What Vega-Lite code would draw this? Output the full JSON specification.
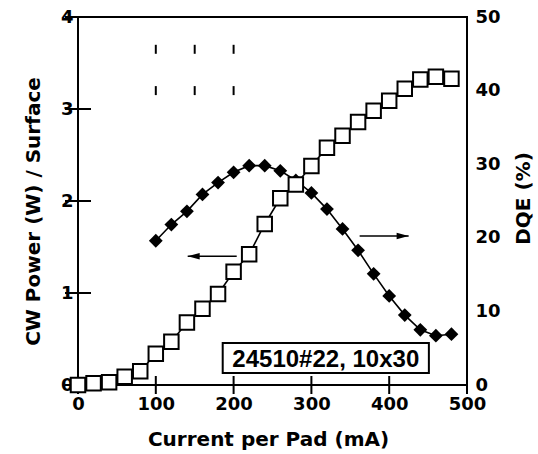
{
  "$schema": "https://vega.github.io/schema/vega-lite/v6.json",
  "width": 389,
  "height": 368,
  "autosize": "none",
  "padding": {"left": 78, "top": 17, "right": 71, "bottom": 69},
  "background": "white",
  "config": {
    "view": {"stroke": "black", "strokeWidth": 2},
    "axis": {
      "domain": false,
      "grid": false,
      "ticks": false,
      "labelColor": "black",
      "labelFont": "DejaVu Sans",
      "labelFontSize": 18,
      "labelFontWeight": "bold",
      "titleColor": "black",
      "titleFont": "DejaVu Sans",
      "titleFontSize": 20,
      "titleFontWeight": "bold"
    }
  },
  "datasets": {
    "curve": [
      {"current": 0, "power": 0.0},
      {"current": 20, "power": 0.02},
      {"current": 40, "power": 0.03},
      {"current": 60, "power": 0.09},
      {"current": 80, "power": 0.15},
      {"current": 100, "power": 0.34, "dqe": 19.6},
      {"current": 120, "power": 0.47, "dqe": 21.8},
      {"current": 140, "power": 0.68, "dqe": 23.6},
      {"current": 160, "power": 0.83, "dqe": 25.9},
      {"current": 180, "power": 0.99, "dqe": 27.5},
      {"current": 200, "power": 1.23, "dqe": 28.9},
      {"current": 220, "power": 1.42, "dqe": 29.8},
      {"current": 240, "power": 1.75, "dqe": 29.8},
      {"current": 260, "power": 2.03, "dqe": 29.1},
      {"current": 280, "power": 2.18, "dqe": 27.8},
      {"current": 300, "power": 2.38, "dqe": 26.1},
      {"current": 320, "power": 2.58, "dqe": 23.9},
      {"current": 340, "power": 2.71, "dqe": 21.2},
      {"current": 360, "power": 2.86, "dqe": 18.3},
      {"current": 380, "power": 2.98, "dqe": 15.1},
      {"current": 400, "power": 3.09, "dqe": 12.1},
      {"current": 420, "power": 3.22, "dqe": 9.5},
      {"current": 440, "power": 3.32, "dqe": 7.5},
      {"current": 460, "power": 3.35, "dqe": 6.7},
      {"current": 480, "power": 3.33, "dqe": 6.9}
    ],
    "arrows": [
      {"arrow": "left", "current": 141, "power": 1.40},
      {"arrow": "left", "current": 204, "power": 1.40},
      {"arrow": "right", "current": 362, "power": 1.62},
      {"arrow": "right", "current": 425, "power": 1.62}
    ],
    "leftHead": [{"current": 141, "power": 1.40}],
    "rightHead": [{"current": 425, "power": 1.62}],
    "label": [{"current": 186, "current2": 451, "power": 0.13, "power2": 0.457, "mid": 318.5, "midPower": 0.285, "text": "24510#22, 10x30"}],
    "testA": [{"current": 100, "power": 3.6}, {"current": 150, "power": 3.6}, {"current": 200, "power": 3.6}],
    "testB": [{"current": 100, "power": 3.2}, {"current": 150, "power": 3.2}, {"current": 200, "power": 3.2}],
    "xMajor": [{"current": 0, "power": 0}, {"current": 100, "power": 0}, {"current": 200, "power": 0}, {"current": 300, "power": 0}, {"current": 400, "power": 0}, {"current": 500, "power": 0}],
    "leftMajor": [{"current": 0, "power": 0}, {"current": 0, "power": 1}, {"current": 0, "power": 2}, {"current": 0, "power": 3}, {"current": 0, "power": 4}]
  },
  "layer": [
    {
      "encoding": {
        "x": {"field": "current", "type": "quantitative"},
        "y": {
          "field": "dqe", "type": "quantitative",
          "scale": {"domain": [0, 50], "nice": false},
          "axis": {
            "orient": "right",
            "title": "DQE (%)",
            "values": [0, 10, 20, 30, 40, 50],
            "labelPadding": 8,
            "labelFlush": false,
            "labelOverlap": false,
            "titleAngle": 270,
            "titleBaseline": "middle",
            "titleX": 56,
            "titleY": 181
          }
        }
      },
      "layer": [
        {"data": {"name": "curve"}, "transform": [{"filter": "isValid(datum.dqe)"}], "mark": {"type": "line", "color": "black", "strokeWidth": 1.6}},
        {"data": {"name": "curve"}, "transform": [{"filter": "isValid(datum.dqe)"}], "mark": {"type": "point", "shape": "diamond", "filled": true, "color": "black", "size": 190, "opacity": 1}}
      ]
    },
    {
      "encoding": {
        "x": {
          "field": "current", "type": "quantitative",
          "scale": {"domain": [0, 500], "nice": false, "zero": false},
          "axis": {
            "orient": "bottom",
            "title": "Current per Pad (mA)",
            "values": [0, 100, 200, 300, 400, 500],
            "labelPadding": 10,
            "labelFlush": false,
            "labelOverlap": false,
            "titleX": 190,
            "titleY": 60,
            "titleBaseline": "alphabetic"
          }
        },
        "y": {
          "field": "power", "type": "quantitative",
          "scale": {"domain": [0, 4], "nice": false},
          "axis": {
            "orient": "left",
            "title": "CW Power (W) / Surface",
            "values": [0, 1, 2, 3, 4],
            "format": "d",
            "labelPadding": 5,
            "labelFlush": false,
            "labelOverlap": false,
            "titleBaseline": "middle",
            "titleX": -45,
            "titleY": 194
          }
        }
      },
      "layer": [
        {"data": {"name": "testA"}, "mark": {"type": "point", "shape": "M-0.22,0L-0.22,-2L0.22,-2L0.22,0Z", "filled": true, "color": "black", "size": 81, "opacity": 1}},
        {"data": {"name": "testB"}, "mark": {"type": "tick", "orient": "vertical", "color": "black", "size": 9, "thickness": 2, "opacity": 1}},
        {"data": {"name": "xMajor"}, "mark": {"type": "tick", "orient": "vertical", "color": "black", "size": 18, "thickness": 2, "opacity": 1}},
        {"data": {"name": "leftMajor"}, "mark": {"type": "tick", "orient": "horizontal", "color": "black", "size": 26, "thickness": 2, "opacity": 1}},
        {"data": {"name": "curve"}, "mark": {"type": "line", "color": "black", "strokeWidth": 1.6}},
        {"data": {"name": "curve"}, "mark": {"type": "point", "shape": "square", "filled": true, "fill": "white", "stroke": "black", "strokeWidth": 2, "size": 210, "opacity": 1}},
        {"data": {"name": "arrows"}, "mark": {"type": "line", "color": "black", "strokeWidth": 1.6}, "encoding": {"detail": {"field": "arrow"}}},
        {"data": {"name": "leftHead"}, "mark": {"type": "point", "shape": "M0,0L2,-0.55L2,0.55Z", "filled": true, "color": "black", "size": 144, "opacity": 1}},
        {"data": {"name": "rightHead"}, "mark": {"type": "point", "shape": "M0,0L-2,-0.55L-2,0.55Z", "filled": true, "color": "black", "size": 144, "opacity": 1}},
        {
          "data": {"name": "label"},
          "mark": {"type": "rect", "fill": "white", "stroke": "black", "strokeWidth": 2},
          "encoding": {
            "x": {"field": "current", "type": "quantitative"},
            "x2": {"field": "current2"},
            "y": {"field": "power", "type": "quantitative"},
            "y2": {"field": "power2"}
          }
        },
        {
          "data": {"name": "label"},
          "mark": {"type": "text", "font": "Liberation Sans", "fontWeight": "bold", "fontSize": 24, "color": "black", "align": "center", "baseline": "middle", "dy": 1},
          "encoding": {
            "x": {"field": "mid", "type": "quantitative"},
            "y": {"field": "midPower", "type": "quantitative"},
            "text": {"field": "text"}
          }
        }
      ]
    }
  ],
  "resolve": {"scale": {"y": "independent"}}
}
